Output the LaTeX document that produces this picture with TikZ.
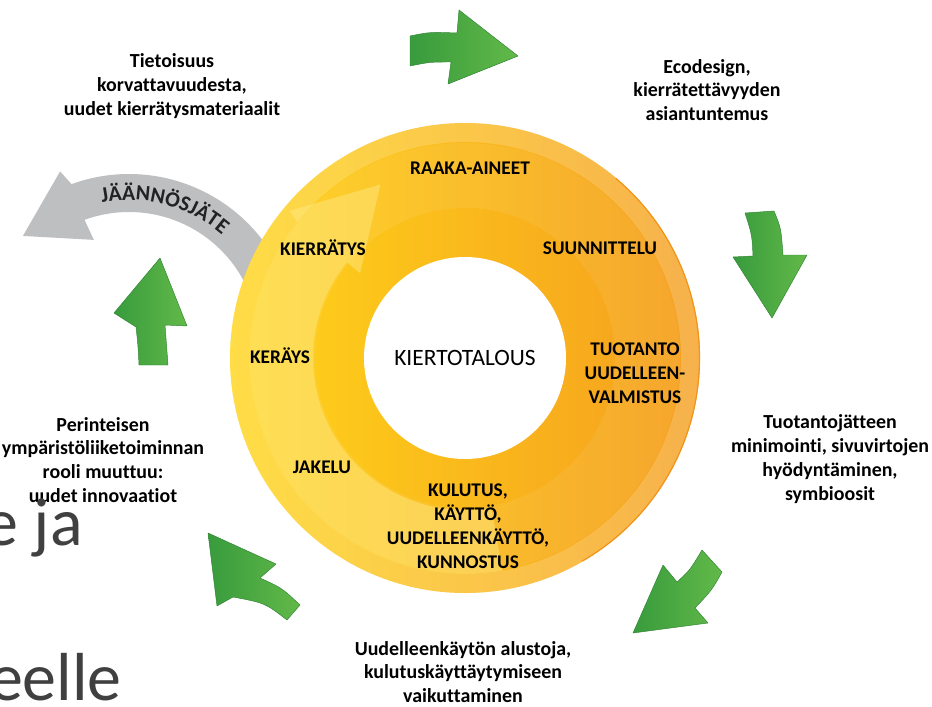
\documentclass[tikz,border=0pt]{standalone}
\usepackage{fontspec}
\setmainfont{Carlito}[Ligatures=NoCommon]
\usetikzlibrary{calc,decorations.text}
\definecolor{ringyellow}{HTML}{FFD51A}
\definecolor{ringmid}{HTML}{FCBE1B}
\definecolor{ringorange}{HTML}{F59E1E}
\definecolor{rimorange}{HTML}{F29419}
\definecolor{bandlight}{HTML}{FFEB8A}
\definecolor{arrowdark}{HTML}{389B3D}
\definecolor{arrowlight}{HTML}{62B948}
\definecolor{wastegray}{HTML}{BEBFC1}
\definecolor{wastetext}{HTML}{222222}
\definecolor{slidegray}{HTML}{404040}
\newcommand\wastefont{\bfseries\fontsize{18.5}{21}\selectfont}
\tikzset{
    greenarrow/.style={left color=arrowdark, right color=arrowlight, draw=arrowdark!85!black, line width=0.4pt, line join=round},
    outertext/.style={font=\bfseries\fontsize{17}{20.4}\selectfont, align=center, inner sep=0pt},
    ringtext/.style={font=\bfseries\fontsize{16.5}{20.4}\selectfont, align=center, inner sep=0pt},
    slidetext/.style={font=\fontsize{58}{60}\selectfont, text=slidegray, inner sep=0pt, anchor=base east}
}
\begin{document}
\begin{tikzpicture}[x=0.03cm, y=-0.03cm]
            \useasboundingbox (0,0) rectangle (932,707);
            \coordinate (G) at (129,342);
            \coordinate (R) at (465,358);
            \fill[wastegray] ($(G)+(-12:168)$) arc[start angle=-12, end angle=-110, radius=168]
                -- ($(G)+(-112:184)$) -- ($(G)+(-135:150)$) -- ($(G)+(-109:108)$)
                -- ($(G)+(-110:130)$) arc[start angle=-110, end angle=-12, radius=130] -- cycle;
            \path[decorate, decoration={text along path, text={|\wastefont|JÄÄNNÖSJÄTE}, text align=center, text color=wastetext}]
                ($(G)+(-110:142)$) arc[start angle=-110, end angle=-40, radius=142];
            \shade[left color=ringyellow, middle color=ringmid, right color=ringorange] (R) circle[radius=235];
            \fill[white, opacity=0.07, even odd rule] (R) circle[radius=215] (R) circle[radius=150];
            \fill[white, opacity=0.2, even odd rule] (R) circle[radius=235] (R) circle[radius=216];
            \fill[bandlight, opacity=0.45] ($(R)+(80:152)$) arc[start angle=80, end angle=219, radius=152]
                -- ($(R)+(219:135)$) -- ($(R)+(244:193)$) -- ($(R)+(220:229)$)
                -- ($(R)+(219:216)$) arc[start angle=219, end angle=80, radius=216] -- cycle;
            \draw[rimorange, line width=1pt] ($(R)+(-50:234.5)$) arc[start angle=-50, end angle=60, radius=234.5];
            \fill[white] (R) circle[radius=101];
            \path[greenarrow] (410,36) .. controls (430,32) .. (457,33) -- (459,10) -- (518,56) -- (448,84) -- (451,62) .. controls (430,62) .. (410,66) -- cycle;
            \path[greenarrow] (745,213) -- (774,211) .. controls (781,228) .. (783,255) -- (807,255) -- (772,318) -- (733,257) -- (753,256) .. controls (752,235) .. (745,213) -- cycle;
            \path[greenarrow] (702,550) -- (722,572) .. controls (712,590) .. (695,608) -- (708,623) -- (633,633) -- (663,565) -- (677,582) .. controls (690,570) .. (702,550) -- cycle;
            \path[greenarrow] (208,533) -- (276,564) -- (260,578) .. controls (282,588) .. (300,605) -- (287,620) .. controls (265,603) .. (233,597) -- (217,606) -- cycle;
            \path[greenarrow] (160,258) -- (187,326) -- (165,325) .. controls (166,345) .. (168,365) -- (139,365) .. controls (138,345) .. (136,327) -- (114,313) -- cycle;
            \node[font=\fontsize{20}{22}\selectfont, inner sep=0pt] (kierto) at (R) {KIERTOTALOUS};
            \node[ringtext] (raaka) at (470,168) {RAAKA-AINEET};
            \node[ringtext] (suunn) at (600,248) {SUUNNITTELU};
            \node[ringtext] (tuot) at (635,373) {TUOTANTO\\UUDELLEEN-\\VALMISTUS};
            \node[ringtext] (kulutus) at (468,526) {KULUTUS,\\KÄYTTÖ,\\UUDELLEENKÄYTTÖ,\\KUNNOSTUS};
            \node[ringtext] (jakelu) at (322,467) {JAKELU};
            \node[ringtext] (keraus) at (280,356) {KERÄYS};
            \node[ringtext] (kierr) at (323,248) {KIERRÄTYS};
            \node[outertext] (tieto) at (172,86) {Tietoisuus\\korvattavuudesta,\\uudet kierrätysmateriaalit};
            \node[outertext] (eco) at (707,90) {Ecodesign,\\kierrätettävyyden\\asiantuntemus};
            \node[outertext] (jate) at (830,459) {Tuotantojätteen\\minimointi, sivuvirtojen\\hyödyntäminen,\\symbioosit};
            \node[outertext] (alusta) at (463,672) {Uudelleenkäytön alustoja,\\kulutuskäyttäytymiseen\\vaikuttaminen};
            \node[outertext] (perint) at (103,460) {Perinteisen\\ympäristöliiketoiminnan\\rooli muuttuu:\\uudet innovaatiot};
            \node[slidetext] (eja) at (83,545) {e ja};
            \node[slidetext] (eelle) at (122,700) {eelle};
\end{tikzpicture}
\end{document}
